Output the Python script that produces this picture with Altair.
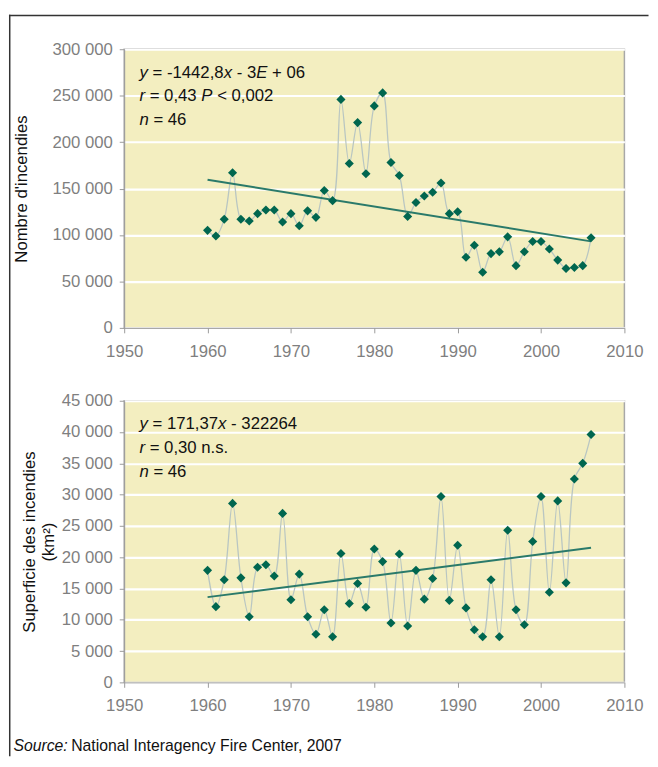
import altair as alt
import pandas as pd

# ---------------- data ----------------
years = list(range(1960, 2007))
fires = [105000, 99000, 117000, 167000, 117000, 115000, 123000, 127000, 127000, 114000,
         123000, 110000, 126000, 119000, 148000, 137000, 246000, 177000, 221000, 166000,
         239000, 253000, 178000, 164000, 120000, 135000, 142000, 146000, 156000, 123000,
         125000, 76000, 89000, 60000, 80000, 82000, 98000, 67000, 82000, 93000,
         93000, 85000, 73000, 64000, 65000, 67000, 97000]
area = [17900, 12100, 16400, 28600, 16700, 10500, 18400, 18800, 17000, 27000,
        13200, 17300, 10500, 7700, 11600, 7300, 20600, 12600, 15800, 12000,
        21300, 19300, 9500, 20500, 9000, 17900, 13300, 16600, 29700, 13100,
        21900, 11900, 8400, 7300, 16400, 7300, 24300, 11600, 9200, 22500,
        29700, 14400, 29000, 15900, 32500, 35000, 39600]
trend_years = [1960, 2006]
fires_slope, fires_intercept = -1442.8, 2987400
area_slope, area_intercept = 171.37, -322264
x_ticks = [1950, 1960, 1970, 1980, 1990, 2000, 2010]
fires_ticks = [0, 50000, 100000, 150000, 200000, 250000, 300000]
area_ticks = [0, 5000, 10000, 15000, 20000, 25000, 30000, 35000, 40000, 45000]

top_lines = [
    [("y", True), (" = -1442,8", False), ("x", True), (" - 3", False), ("E", True), (" + 06", False)],
    [("r", True), (" = 0,43 ", False), ("P", True), (" < 0,002", False)],
    [("n", True), (" = 46", False)],
]
bot_lines = [
    [("y", True), (" = 171,37", False), ("x", True), (" - 322264", False)],
    [("r", True), (" = 0,30 n.s.", False)],
    [("n", True), (" = 46", False)],
]
source_parts = [("Source:", True), (" National Interagency Fire Center, 2007", False)]

# ---------------- style ----------------
FONT = "Liberation Sans"
W, H1, H2 = 508, 283, 286
GAP = 74
PT_COLOR = "#00664f"
LINE_COLOR = "#b9c6c2"
TREND_COLOR = "#2a7a6a"

df = pd.DataFrame({"year": years, "fires": fires, "area": area})
tr = pd.DataFrame({"year": trend_years})
tr["fires"] = [fires_slope * y + fires_intercept for y in trend_years]
tr["area"] = [area_slope * y + area_intercept for y in trend_years]
dummy = pd.DataFrame({"a": [0]})

ARIAL = {' ': .278, '=': .584, '-': .333, ',': .278, '+': .584, '<': .584, '.': .278,
         ':': .278, 'y': .5, 'x': .5, 'E': .667, 'r': .333, 'P': .667, 'n': .556, 's': .5}
for d in "0123456789":
    ARIAL[d] = .556


def tw(s, size):
    return sum(ARIAL.get(c, .556) for c in s) * size


def seg_text(parts, x0, y, size):
    layers = []
    x = x0
    for txt, ital in parts:
        lead = len(txt) - len(txt.lstrip(" "))
        body = txt.strip(" ")
        layers.append(
            alt.Chart(dummy).mark_text(
                text=body, align="left", baseline="middle", font=FONT, fontSize=size,
                fontStyle="italic" if ital else "normal", color="#111"
            ).encode(x=alt.value(x + tw(" " * lead, size)), y=alt.value(y))
        )
        x += tw(txt, size)
    return layers


xenc = alt.X("year:Q", scale=alt.Scale(domain=[1950, 2010], nice=False),
             axis=alt.Axis(values=x_ticks, format="d", title=None, grid=False,
                           tickSize=5, labelPadding=11, labelFlush=False))


def panel(field, ticks, domain, title, titlex, h, lines, extra):
    yenc = alt.Y(f"{field}:Q", scale=alt.Scale(domain=domain, nice=False),
                 axis=alt.Axis(values=ticks, title=title, grid=True, tickSize=5,
                               labelPadding=7, titleX=titlex, titleY=h / 2,
                               labelOverlap=False, labelFlush=False,
                               titleAlign="center", titleBaseline="middle", titleAngle=-90,
                               labelExpr="replace(format(datum.value, ',d'), ',', ' ')"))
    base = alt.Chart(df).encode(x=xenc, y=yenc)
    line = base.mark_line(interpolate="catmull-rom", color=LINE_COLOR, strokeWidth=1.3)
    pts = base.mark_point(shape="diamond", filled=True, size=85, color=PT_COLOR, opacity=1)
    trend = alt.Chart(tr).mark_line(color=TREND_COLOR, strokeWidth=2).encode(x=xenc, y=yenc)
    txt = []
    for i, ln in enumerate(lines):
        txt += seg_text(ln, 15.5, 24 + 24 * i, 17)
    return alt.layer(line, trend, pts, *txt, *extra).properties(width=W, height=h)


# outer frame (left and top edges) drawn as thin rectangles
frame = [
    alt.Chart(dummy).mark_rect(color="#333").encode(
        x=alt.value(-117), x2=alt.value(-115.5), y=alt.value(-35), y2=alt.value(718)),
    alt.Chart(dummy).mark_rect(color="#333").encode(
        x=alt.value(-117), x2=alt.value(532.5), y=alt.value(-35), y2=alt.value(-33.5)),
]
footer = seg_text(source_parts, -112.5, 351, 16)

top = panel("fires", fires_ticks, [0, 300000], "Nombre d'incendies", -104.5, H1, top_lines, frame)
bottom = panel("area", area_ticks, [0, 45000], ["Superficie des incendies", "(km²)"], -96, H2,
               bot_lines, footer)

chart = alt.vconcat(top, bottom, spacing=GAP, bounds="flush").properties(
    padding={"left": 0, "top": 0, "right": 0, "bottom": 0}, background="white"
).configure_view(
    fill="#f3eec0", stroke="#a8a8a8", strokeWidth=1.5
).configure_axis(
    labelFont=FONT, labelFontSize=17, labelColor="#7f7f7f",
    titleFont=FONT, titleFontSize=17, titleColor="#111", titleFontWeight="normal",
    domainColor="#9a9a9a", tickColor="#9a9a9a", gridColor="white", gridWidth=2.2,
    gridOpacity=1
)

chart.save("out.html", embed_options={"renderer": "svg", "actions": False})
